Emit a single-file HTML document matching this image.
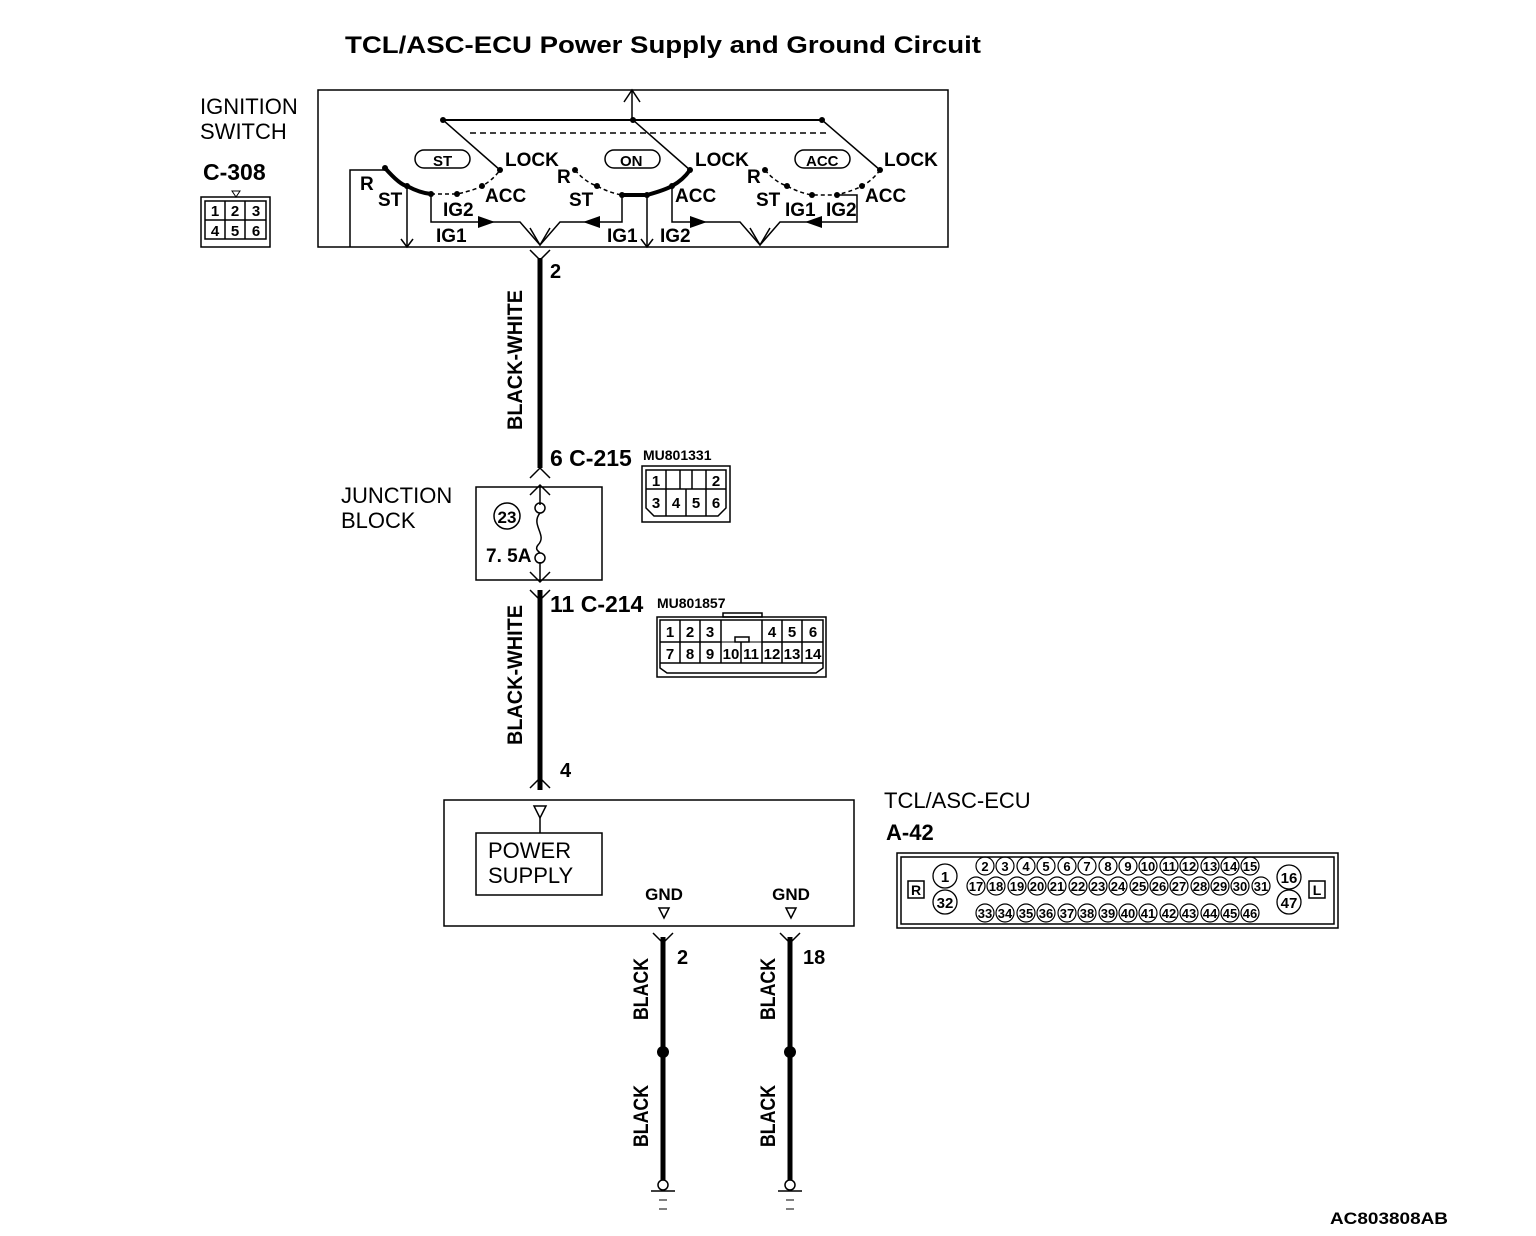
<!DOCTYPE html>
<html><head><meta charset="utf-8"><style>
html,body{margin:0;padding:0;background:#fff}
svg{display:block}
text{font-family:"Liberation Sans Narrow","Liberation Sans",sans-serif;font-weight:bold;fill:#000}
.r{font-family:"Liberation Sans",sans-serif;font-weight:normal}
</style></head><body>
<svg width="1536" height="1236" viewBox="0 0 1536 1236" xmlns="http://www.w3.org/2000/svg">
<g stroke="#000" fill="none" stroke-width="1.5">
<!-- ignition switch box -->
<rect x="318" y="90" width="630" height="157"/>
<line x1="443" y1="120" x2="822" y2="120" stroke-width="2"/>
<line x1="632" y1="120" x2="632" y2="90"/>
<polyline points="624,102 632,90 640,102"/>
<line x1="470" y1="133" x2="830" y2="133" stroke-dasharray="6,4"/>
<line x1="443" y1="120" x2="500" y2="170"/>
<line x1="633" y1="120" x2="690" y2="170"/>
<line x1="822" y1="120" x2="880" y2="170"/>
<rect x="415" y="150" width="55" height="18" rx="9"/>
<rect x="605" y="150" width="55" height="18" rx="9"/>
<rect x="795" y="150" width="55" height="18" rx="9"/>
<!-- arcs group1 -->
<path d="M385,168 Q400,185 407,186 Q420,193 431,194" stroke-width="4"/>
<path d="M431,194 L457,194 Q475,190 482,186 Q493,180 500,170" stroke-dasharray="4,3"/>
<!-- group2 -->
<path d="M575,170 Q585,182 597,186 Q610,193 622,195" stroke-dasharray="4,3"/>
<path d="M622,195 L647,195 Q665,190 672,186 Q683,180 690,170" stroke-width="4"/>
<!-- group3 -->
<path d="M765,170 Q775,182 787,186 Q800,193 812,195 L837,195 Q855,190 862,186 Q873,180 880,170" stroke-dasharray="4,3"/>
<!-- wires inside switch -->
<polyline points="350,247 350,170 385,170"/>
<line x1="407" y1="186" x2="407" y2="247"/>
<polyline points="401,239 407,247 413,239"/>
<polyline points="431,194 431,222 520,222 540,245 560,222 622,222 622,195"/>
<polyline points="530,228 540,245 550,228"/>
<line x1="647" y1="195" x2="647" y2="247"/>
<polyline points="641,239 647,247 653,239"/>
<polyline points="672,186 672,222 740,222 760,245 780,222 857,222 857,195 837,195"/>
<polyline points="750,228 760,245 770,228"/>
</g>
<g fill="#000">
<circle cx="443" cy="120" r="3"/><circle cx="633" cy="120" r="3"/><circle cx="822" cy="120" r="3"/>
<circle cx="385" cy="168" r="3"/><circle cx="407" cy="186" r="3"/><circle cx="431" cy="194" r="3"/><circle cx="457" cy="194" r="3"/><circle cx="482" cy="186" r="3"/><circle cx="500" cy="170" r="3"/>
<circle cx="575" cy="170" r="3"/><circle cx="597" cy="186" r="3"/><circle cx="622" cy="195" r="3"/><circle cx="647" cy="195" r="3"/><circle cx="672" cy="186" r="3"/><circle cx="690" cy="170" r="3"/>
<circle cx="765" cy="170" r="3"/><circle cx="787" cy="186" r="3"/><circle cx="812" cy="195" r="3"/><circle cx="837" cy="195" r="3"/><circle cx="862" cy="186" r="3"/><circle cx="880" cy="170" r="3"/>
<polygon points="478,216 495,222 478,228"/>
<polygon points="600,216 583,222 600,228"/>
<polygon points="690,216 707,222 690,228"/>
<polygon points="822,216 805,222 822,228"/>
</g>
<g font-size="19">
<text x="505" y="166">LOCK</text><text x="695" y="166">LOCK</text><text x="884" y="166">LOCK</text>
<text x="433" y="166" font-size="15">ST</text><text x="620" y="166" font-size="15">ON</text><text x="806" y="166" font-size="15">ACC</text>
<text x="360" y="190">R</text><text x="378" y="206">ST</text><text x="443" y="216">IG2</text><text x="485" y="202">ACC</text><text x="436" y="242">IG1</text>
<text x="557" y="183">R</text><text x="569" y="206">ST</text><text x="675" y="202">ACC</text><text x="607" y="242">IG1</text><text x="660" y="242">IG2</text>
<text x="747" y="183">R</text><text x="756" y="206">ST</text><text x="785" y="216">IG1</text><text x="826" y="216">IG2</text><text x="865" y="202">ACC</text>
</g>
<text x="345" y="53" font-size="24" font-family="Liberation Sans" textLength="636" lengthAdjust="spacingAndGlyphs">TCL/ASC-ECU Power Supply and Ground Circuit</text>
<text class="r" x="200" y="114" font-size="22">IGNITION</text>
<text class="r" x="200" y="139" font-size="22">SWITCH</text>
<text x="203" y="180" font-size="23">C-308</text>
<g stroke="#000" fill="none" stroke-width="1.5">
<rect x="201" y="197" width="69" height="50"/>
<rect x="205" y="201" width="61" height="38"/>
<line x1="225" y1="201" x2="225" y2="239"/><line x1="245" y1="201" x2="245" y2="239"/><line x1="205" y1="220" x2="266" y2="220"/>
<polygon points="232,191 240,191 236,197" stroke-width="1"/>
</g>
<g font-size="15" text-anchor="middle"><text x="215" y="216">1</text><text x="235" y="216">2</text><text x="256" y="216">3</text><text x="215" y="236">4</text><text x="235" y="236">5</text><text x="256" y="236">6</text></g>
<!-- main wire -->
<g stroke="#000" fill="none">
<line x1="540" y1="258" x2="540" y2="468" stroke-width="5"/>
<line x1="540" y1="590" x2="540" y2="790" stroke-width="5"/>
<polyline points="530,250 540,260 550,250" stroke-width="1.5"/>
<polyline points="530,478 540,468 550,478" stroke-width="1.5"/>
<polyline points="530,495 540,485 550,495" stroke-width="1.5"/>
<line x1="540" y1="485" x2="540" y2="505" stroke-width="1.5"/>
<polyline points="530,572 540,582 550,572" stroke-width="1.5"/>
<polyline points="530,590 540,600 550,590" stroke-width="1.5"/>
<line x1="540" y1="562" x2="540" y2="582" stroke-width="1.5"/>
<polyline points="530,788 540,778 550,788" stroke-width="1.5"/>
<rect x="476" y="487" width="126" height="93" stroke-width="1.5"/>
<circle cx="540" cy="508" r="5" stroke-width="1.5"/>
<circle cx="540" cy="558" r="5" stroke-width="1.5"/>
<path d="M540,513 C530,525 548,535 538,545 C534,550 540,552 540,553" stroke-width="1.5"/>
<circle cx="507" cy="516" r="13" stroke-width="1.5"/>
</g>
<text x="550" y="278" font-size="20">2</text>
<text transform="translate(522,430) rotate(-90)" font-size="21" textLength="140" lengthAdjust="spacingAndGlyphs">BLACK-WHITE</text>
<text transform="translate(522,745) rotate(-90)" font-size="21" textLength="140" lengthAdjust="spacingAndGlyphs">BLACK-WHITE</text>
<text x="550" y="466" font-size="23">6 C-215</text>
<text x="643" y="460" font-size="14">MU801331</text>
<text class="r" x="341" y="503" font-size="22">JUNCTION</text>
<text class="r" x="341" y="528" font-size="22">BLOCK</text>
<text x="507" y="523" font-size="17" text-anchor="middle">23</text>
<text x="486" y="562" font-size="19">7. 5A</text>
<text x="550" y="612" font-size="23">11 C-214</text>
<text x="657" y="608" font-size="14">MU801857</text>
<text x="560" y="777" font-size="20">4</text>
<!-- C-215 -->
<g stroke="#000" fill="none" stroke-width="1.5">
<path d="M642,466 H730 V522 H642 Z"/>
<path d="M646,470 H726 V508 L718,516 H654 L646,508 Z"/>
<line x1="646" y1="489" x2="726" y2="489"/>
<line x1="666" y1="470" x2="666" y2="516"/><line x1="686" y1="489" x2="686" y2="516"/><line x1="706" y1="470" x2="706" y2="516"/>
<line x1="680" y1="470" x2="680" y2="489"/><line x1="692" y1="470" x2="692" y2="489"/>
</g>
<g font-size="15" text-anchor="middle"><text x="656" y="486">1</text><text x="716" y="486">2</text><text x="656" y="508">3</text><text x="676" y="508">4</text><text x="696" y="508">5</text><text x="716" y="508">6</text></g>
<!-- C-214 -->
<g stroke="#000" fill="none" stroke-width="1.5">
<rect x="657" y="617" width="169" height="60"/>
<rect x="723" y="613" width="39" height="4"/>
<path d="M660,620 H823 V668 L816,673 H667 L660,668 Z"/>
<line x1="660" y1="642" x2="721" y2="642"/><line x1="762" y1="642" x2="823" y2="642"/>
<line x1="721" y1="642" x2="762" y2="642" stroke-width="1"/>
<line x1="660" y1="663" x2="823" y2="663"/>
<line x1="680" y1="620" x2="680" y2="663"/><line x1="700" y1="620" x2="700" y2="663"/><line x1="721" y1="620" x2="721" y2="663"/>
<line x1="741" y1="642" x2="741" y2="663"/><line x1="762" y1="620" x2="762" y2="663"/><line x1="782" y1="620" x2="782" y2="663"/><line x1="802" y1="620" x2="802" y2="663"/>
<rect x="735" y="637" width="14" height="5"/>
</g>
<g font-size="15" text-anchor="middle"><text x="670" y="637">1</text><text x="690" y="637">2</text><text x="710" y="637">3</text><text x="772" y="637">4</text><text x="792" y="637">5</text><text x="813" y="637">6</text>
<text x="670" y="659">7</text><text x="690" y="659">8</text><text x="710" y="659">9</text><text x="731" y="659">10</text><text x="751" y="659">11</text><text x="772" y="659">12</text><text x="792" y="659">13</text><text x="813" y="659">14</text></g>
<!-- ECU -->
<g stroke="#000" fill="none" stroke-width="1.5">
<rect x="444" y="800" width="410" height="126"/>
<rect x="476" y="833" width="126" height="62"/>
<polygon points="534,806 546,806 540,818"/>
<line x1="540" y1="818" x2="540" y2="833"/>
<polygon points="659,908 669,908 664,918"/>
<polygon points="786,908 796,908 791,918"/>
</g>
<text class="r" x="488" y="858" font-size="22">POWER</text>
<text class="r" x="488" y="883" font-size="22">SUPPLY</text>
<text x="664" y="900" font-size="17" text-anchor="middle">GND</text>
<text x="791" y="900" font-size="17" text-anchor="middle">GND</text>
<text class="r" x="884" y="808" font-size="22">TCL/ASC-ECU</text>
<text x="886" y="840" font-size="22">A-42</text>
<g stroke="#000" fill="none">
<rect x="897" y="853" width="441" height="75" stroke-width="1.5"/>
<rect x="901" y="857" width="433" height="67" stroke-width="1.5"/>
<rect x="908" y="881" width="16" height="17" stroke-width="1.5"/>
<rect x="1309" y="881" width="16" height="17" stroke-width="1.5"/>
</g>
<text x="916" y="895" font-size="14" text-anchor="middle">R</text>
<text x="1317" y="895" font-size="14" text-anchor="middle">L</text>
<g id="pins" stroke="#000" fill="none" stroke-width="1.3">
<circle cx="945" cy="876" r="12"/><circle cx="945" cy="902" r="12"/><circle cx="1289" cy="877" r="12"/><circle cx="1289" cy="902" r="12"/>
</g>
<g font-size="15" text-anchor="middle"><text x="945" y="882">1</text><text x="945" y="908">32</text><text x="1289" y="883">16</text><text x="1289" y="908">47</text></g>
<g stroke="#000" fill="none" stroke-width="1.2">
<circle cx="985" cy="866" r="9"/><circle cx="1005" cy="866" r="9"/><circle cx="1026" cy="866" r="9"/><circle cx="1046" cy="866" r="9"/><circle cx="1067" cy="866" r="9"/><circle cx="1087" cy="866" r="9"/><circle cx="1108" cy="866" r="9"/><circle cx="1128" cy="866" r="9"/><circle cx="1148" cy="866" r="9"/><circle cx="1169" cy="866" r="9"/><circle cx="1189" cy="866" r="9"/><circle cx="1210" cy="866" r="9"/><circle cx="1230" cy="866" r="9"/><circle cx="1250" cy="866" r="9"/>
<circle cx="976" cy="886" r="9"/><circle cx="996" cy="886" r="9"/><circle cx="1017" cy="886" r="9"/><circle cx="1037" cy="886" r="9"/><circle cx="1057" cy="886" r="9"/><circle cx="1078" cy="886" r="9"/><circle cx="1098" cy="886" r="9"/><circle cx="1118" cy="886" r="9"/><circle cx="1139" cy="886" r="9"/><circle cx="1159" cy="886" r="9"/><circle cx="1179" cy="886" r="9"/><circle cx="1200" cy="886" r="9"/><circle cx="1220" cy="886" r="9"/><circle cx="1240" cy="886" r="9"/><circle cx="1261" cy="886" r="9"/>
<circle cx="985" cy="913" r="9"/><circle cx="1005" cy="913" r="9"/><circle cx="1026" cy="913" r="9"/><circle cx="1046" cy="913" r="9"/><circle cx="1067" cy="913" r="9"/><circle cx="1087" cy="913" r="9"/><circle cx="1108" cy="913" r="9"/><circle cx="1128" cy="913" r="9"/><circle cx="1148" cy="913" r="9"/><circle cx="1169" cy="913" r="9"/><circle cx="1189" cy="913" r="9"/><circle cx="1210" cy="913" r="9"/><circle cx="1230" cy="913" r="9"/><circle cx="1250" cy="913" r="9"/>
</g>
<g font-size="13" text-anchor="middle">
<text x="985" y="871">2</text><text x="1005" y="871">3</text><text x="1026" y="871">4</text><text x="1046" y="871">5</text><text x="1067" y="871">6</text><text x="1087" y="871">7</text><text x="1108" y="871">8</text><text x="1128" y="871">9</text><text x="1148" y="871">10</text><text x="1169" y="871">11</text><text x="1189" y="871">12</text><text x="1210" y="871">13</text><text x="1230" y="871">14</text><text x="1250" y="871">15</text>
<text x="976" y="891">17</text><text x="996" y="891">18</text><text x="1017" y="891">19</text><text x="1037" y="891">20</text><text x="1057" y="891">21</text><text x="1078" y="891">22</text><text x="1098" y="891">23</text><text x="1118" y="891">24</text><text x="1139" y="891">25</text><text x="1159" y="891">26</text><text x="1179" y="891">27</text><text x="1200" y="891">28</text><text x="1220" y="891">29</text><text x="1240" y="891">30</text><text x="1261" y="891">31</text>
<text x="985" y="918">33</text><text x="1005" y="918">34</text><text x="1026" y="918">35</text><text x="1046" y="918">36</text><text x="1067" y="918">37</text><text x="1087" y="918">38</text><text x="1108" y="918">39</text><text x="1128" y="918">40</text><text x="1148" y="918">41</text><text x="1169" y="918">42</text><text x="1189" y="918">43</text><text x="1210" y="918">44</text><text x="1230" y="918">45</text><text x="1250" y="918">46</text>
</g>
<!-- ground wires -->
<g stroke="#000" fill="none">
<line x1="663" y1="937" x2="663" y2="1180" stroke-width="5"/>
<line x1="790" y1="937" x2="790" y2="1180" stroke-width="5"/>
<polyline points="653,933 663,943 673,933" stroke-width="1.5"/>
<polyline points="780,933 790,943 800,933" stroke-width="1.5"/>
<circle cx="663" cy="1185" r="5" stroke-width="1.5"/><circle cx="790" cy="1185" r="5" stroke-width="1.5"/>
<line x1="651" y1="1191" x2="675" y2="1191" stroke-width="1.5"/><line x1="659" y1="1200" x2="667" y2="1200"/><line x1="659" y1="1209" x2="667" y2="1209"/>
<line x1="778" y1="1191" x2="802" y2="1191" stroke-width="1.5"/><line x1="786" y1="1200" x2="794" y2="1200"/><line x1="786" y1="1209" x2="794" y2="1209"/>
</g>
<circle cx="663" cy="1052" r="6" fill="#000"/><circle cx="790" cy="1052" r="6" fill="#000"/>
<text x="677" y="964" font-size="20">2</text>
<text x="803" y="964" font-size="20">18</text>
<g font-size="21">
<text transform="translate(648,1020) rotate(-90)" textLength="62" lengthAdjust="spacingAndGlyphs">BLACK</text>
<text transform="translate(648,1147) rotate(-90)" textLength="62" lengthAdjust="spacingAndGlyphs">BLACK</text>
<text transform="translate(775,1020) rotate(-90)" textLength="62" lengthAdjust="spacingAndGlyphs">BLACK</text>
<text transform="translate(775,1147) rotate(-90)" textLength="62" lengthAdjust="spacingAndGlyphs">BLACK</text>
</g>
<text x="1330" y="1224" font-size="17" textLength="118" lengthAdjust="spacingAndGlyphs">AC803808AB</text>
</svg>
</body></html>
